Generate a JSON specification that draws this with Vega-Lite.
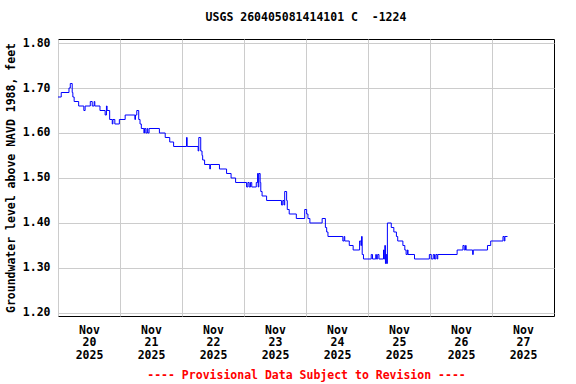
{
  "$schema": "https://vega.github.io/schema/vega-lite/v6.json",
  "width": 496,
  "height": 277,
  "autosize": {"type": "none"},
  "padding": {"left": 58, "top": 39, "right": 22, "bottom": 68},
  "background": "white",
  "config": {"view": {"stroke": "black", "strokeWidth": 1}, "font": "DejaVu Sans Mono"},
  "title": {"text": "USGS 260405081414101 C \u00a0-1224", "font": "DejaVu Sans Mono", "fontSize": 11.5, "fontWeight": "bold", "anchor": "middle", "frame": "group", "offset": 14, "color": "black"},
  "data": {"values": [
    {"t": "2025-11-20T00:00", "v": 1.68},
    {"t": "2025-11-20T01:15", "v": 1.69},
    {"t": "2025-11-20T04:15", "v": 1.70},
    {"t": "2025-11-20T04:45", "v": 1.71},
    {"t": "2025-11-20T05:30", "v": 1.69},
    {"t": "2025-11-20T05:45", "v": 1.68},
    {"t": "2025-11-20T06:15", "v": 1.67},
    {"t": "2025-11-20T08:00", "v": 1.66},
    {"t": "2025-11-20T10:00", "v": 1.65},
    {"t": "2025-11-20T10:30", "v": 1.66},
    {"t": "2025-11-20T12:30", "v": 1.67},
    {"t": "2025-11-20T13:15", "v": 1.66},
    {"t": "2025-11-20T14:00", "v": 1.67},
    {"t": "2025-11-20T14:15", "v": 1.66},
    {"t": "2025-11-20T16:15", "v": 1.65},
    {"t": "2025-11-20T18:15", "v": 1.64},
    {"t": "2025-11-20T18:45", "v": 1.66},
    {"t": "2025-11-20T19:00", "v": 1.65},
    {"t": "2025-11-20T20:00", "v": 1.63},
    {"t": "2025-11-20T21:00", "v": 1.62},
    {"t": "2025-11-20T21:15", "v": 1.63},
    {"t": "2025-11-20T22:00", "v": 1.62},
    {"t": "2025-11-20T23:45", "v": 1.63},
    {"t": "2025-11-21T02:00", "v": 1.64},
    {"t": "2025-11-21T05:45", "v": 1.63},
    {"t": "2025-11-21T06:00", "v": 1.64},
    {"t": "2025-11-21T06:30", "v": 1.65},
    {"t": "2025-11-21T07:15", "v": 1.63},
    {"t": "2025-11-21T07:45", "v": 1.62},
    {"t": "2025-11-21T08:15", "v": 1.61},
    {"t": "2025-11-21T09:15", "v": 1.60},
    {"t": "2025-11-21T09:30", "v": 1.61},
    {"t": "2025-11-21T10:00", "v": 1.60},
    {"t": "2025-11-21T10:30", "v": 1.61},
    {"t": "2025-11-21T10:45", "v": 1.60},
    {"t": "2025-11-21T11:15", "v": 1.61},
    {"t": "2025-11-21T15:15", "v": 1.60},
    {"t": "2025-11-21T17:30", "v": 1.59},
    {"t": "2025-11-21T19:15", "v": 1.58},
    {"t": "2025-11-21T20:45", "v": 1.57},
    {"t": "2025-11-22T01:45", "v": 1.59},
    {"t": "2025-11-22T02:00", "v": 1.57},
    {"t": "2025-11-22T06:15", "v": 1.56},
    {"t": "2025-11-22T06:30", "v": 1.59},
    {"t": "2025-11-22T07:15", "v": 1.56},
    {"t": "2025-11-22T07:45", "v": 1.55},
    {"t": "2025-11-22T08:00", "v": 1.54},
    {"t": "2025-11-22T08:45", "v": 1.53},
    {"t": "2025-11-22T10:45", "v": 1.52},
    {"t": "2025-11-22T11:00", "v": 1.53},
    {"t": "2025-11-22T14:30", "v": 1.52},
    {"t": "2025-11-22T17:15", "v": 1.51},
    {"t": "2025-11-22T19:00", "v": 1.50},
    {"t": "2025-11-22T20:45", "v": 1.49},
    {"t": "2025-11-23T01:00", "v": 1.48},
    {"t": "2025-11-23T01:30", "v": 1.49},
    {"t": "2025-11-23T02:00", "v": 1.48},
    {"t": "2025-11-23T02:30", "v": 1.49},
    {"t": "2025-11-23T03:00", "v": 1.48},
    {"t": "2025-11-23T04:45", "v": 1.49},
    {"t": "2025-11-23T05:15", "v": 1.51},
    {"t": "2025-11-23T05:30", "v": 1.48},
    {"t": "2025-11-23T05:45", "v": 1.51},
    {"t": "2025-11-23T06:15", "v": 1.49},
    {"t": "2025-11-23T06:30", "v": 1.47},
    {"t": "2025-11-23T07:00", "v": 1.46},
    {"t": "2025-11-23T08:45", "v": 1.45},
    {"t": "2025-11-23T14:30", "v": 1.44},
    {"t": "2025-11-23T15:00", "v": 1.45},
    {"t": "2025-11-23T15:30", "v": 1.44},
    {"t": "2025-11-23T15:45", "v": 1.47},
    {"t": "2025-11-23T16:30", "v": 1.45},
    {"t": "2025-11-23T16:45", "v": 1.43},
    {"t": "2025-11-23T17:30", "v": 1.42},
    {"t": "2025-11-23T20:15", "v": 1.41},
    {"t": "2025-11-23T23:30", "v": 1.43},
    {"t": "2025-11-24T00:15", "v": 1.42},
    {"t": "2025-11-24T00:45", "v": 1.41},
    {"t": "2025-11-24T01:30", "v": 1.40},
    {"t": "2025-11-24T06:15", "v": 1.41},
    {"t": "2025-11-24T07:30", "v": 1.39},
    {"t": "2025-11-24T08:00", "v": 1.38},
    {"t": "2025-11-24T08:30", "v": 1.37},
    {"t": "2025-11-24T14:15", "v": 1.36},
    {"t": "2025-11-24T14:45", "v": 1.37},
    {"t": "2025-11-24T15:00", "v": 1.36},
    {"t": "2025-11-24T16:45", "v": 1.35},
    {"t": "2025-11-24T18:15", "v": 1.34},
    {"t": "2025-11-24T20:45", "v": 1.36},
    {"t": "2025-11-24T21:15", "v": 1.35},
    {"t": "2025-11-24T21:30", "v": 1.37},
    {"t": "2025-11-24T21:45", "v": 1.33},
    {"t": "2025-11-24T22:15", "v": 1.32},
    {"t": "2025-11-25T01:15", "v": 1.33},
    {"t": "2025-11-25T01:45", "v": 1.32},
    {"t": "2025-11-25T03:00", "v": 1.33},
    {"t": "2025-11-25T03:15", "v": 1.32},
    {"t": "2025-11-25T03:45", "v": 1.33},
    {"t": "2025-11-25T04:15", "v": 1.32},
    {"t": "2025-11-25T06:00", "v": 1.34},
    {"t": "2025-11-25T06:15", "v": 1.32},
    {"t": "2025-11-25T06:30", "v": 1.35},
    {"t": "2025-11-25T06:45", "v": 1.31},
    {"t": "2025-11-25T07:00", "v": 1.33},
    {"t": "2025-11-25T07:15", "v": 1.31},
    {"t": "2025-11-25T07:30", "v": 1.40},
    {"t": "2025-11-25T09:00", "v": 1.39},
    {"t": "2025-11-25T10:00", "v": 1.38},
    {"t": "2025-11-25T11:00", "v": 1.37},
    {"t": "2025-11-25T11:30", "v": 1.36},
    {"t": "2025-11-25T13:30", "v": 1.35},
    {"t": "2025-11-25T14:15", "v": 1.34},
    {"t": "2025-11-25T14:45", "v": 1.33},
    {"t": "2025-11-25T15:15", "v": 1.34},
    {"t": "2025-11-25T15:30", "v": 1.33},
    {"t": "2025-11-25T18:00", "v": 1.32},
    {"t": "2025-11-25T23:45", "v": 1.33},
    {"t": "2025-11-26T00:30", "v": 1.32},
    {"t": "2025-11-26T01:15", "v": 1.33},
    {"t": "2025-11-26T01:45", "v": 1.32},
    {"t": "2025-11-26T02:15", "v": 1.33},
    {"t": "2025-11-26T02:45", "v": 1.32},
    {"t": "2025-11-26T03:00", "v": 1.33},
    {"t": "2025-11-26T10:30", "v": 1.34},
    {"t": "2025-11-26T12:45", "v": 1.35},
    {"t": "2025-11-26T13:15", "v": 1.34},
    {"t": "2025-11-26T13:45", "v": 1.35},
    {"t": "2025-11-26T14:00", "v": 1.34},
    {"t": "2025-11-26T16:30", "v": 1.33},
    {"t": "2025-11-26T16:45", "v": 1.34},
    {"t": "2025-11-26T22:15", "v": 1.35},
    {"t": "2025-11-26T23:30", "v": 1.36},
    {"t": "2025-11-27T04:15", "v": 1.37},
    {"t": "2025-11-27T04:45", "v": 1.36},
    {"t": "2025-11-27T05:00", "v": 1.37},
    {"t": "2025-11-27T06:00", "v": 1.37}
  ]},
  "mark": {"type": "line", "interpolate": "step-after", "color": "#0000ff", "strokeWidth": 1},
  "encoding": {
    "x": {
      "field": "t",
      "type": "temporal",
      "scale": {"domain": [{"year": 2025, "month": 11, "date": 20}, {"year": 2025, "month": 11, "date": 28}]},
      "axis": {
        "values": [
          {"year": 2025, "month": 11, "date": 20},
          {"year": 2025, "month": 11, "date": 21},
          {"year": 2025, "month": 11, "date": 22},
          {"year": 2025, "month": 11, "date": 23},
          {"year": 2025, "month": 11, "date": 24},
          {"year": 2025, "month": 11, "date": 25},
          {"year": 2025, "month": 11, "date": 26},
          {"year": 2025, "month": 11, "date": 27}
        ],
        "labelExpr": "[timeFormat(datum.value, '%b'), timeFormat(datum.value, '%d'), timeFormat(datum.value, '%Y')]",
        "labelOffset": 31,
        "labelFlush": false,
        "labelOverlap": false,
        "labelBound": false,
        "labelFont": "DejaVu Sans Mono",
        "labelFontSize": 11.5,
        "labelFontWeight": "bold",
        "labelColor": "black",
        "labelLineHeight": 12.7,
        "labelPadding": 8,
        "ticks": false,
        "domain": false,
        "grid": true,
        "gridColor": "#cccccc",
        "gridWidth": 1,
        "title": "---- Provisional Data Subject to Revision ----",
        "titleColor": "red",
        "titleFont": "DejaVu Sans Mono",
        "titleFontSize": 11.5,
        "titleFontWeight": "bold",
        "titleY": 59,
        "titleBaseline": "middle"
      }
    },
    "y": {
      "field": "v",
      "type": "quantitative",
      "scale": {"domain": [1.1933, 1.8089], "nice": false, "zero": false},
      "axis": {
        "values": [1.2, 1.3, 1.4, 1.5, 1.6, 1.7, 1.8],
        "format": ".2f",
        "labelFlush": false,
        "labelFont": "DejaVu Sans Mono",
        "labelFontSize": 11.5,
        "labelFontWeight": "bold",
        "labelColor": "black",
        "labelPadding": 8,
        "ticks": false,
        "domain": false,
        "grid": true,
        "gridColor": "#cccccc",
        "gridWidth": 1,
        "title": "Groundwater level above NAVD 1988, feet",
        "titleColor": "black",
        "titleFont": "DejaVu Sans Mono",
        "titleFontSize": 11.5,
        "titleFontWeight": "bold",
        "titlePadding": 6
      }
    }
  }
}
